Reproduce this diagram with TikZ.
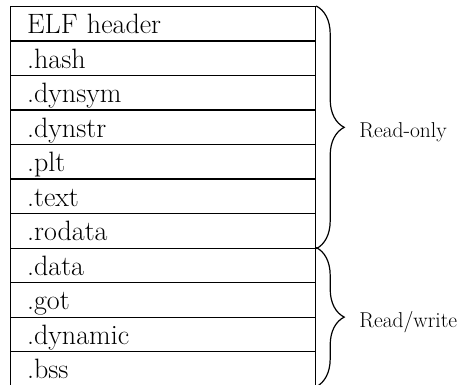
\documentclass[tikz,border=0pt]{standalone}
\usetikzlibrary{decorations.pathreplacing,calc}
\begin{document}
\begin{tikzpicture}[x=1pt,y=-1pt,
  rowbox/.style={draw,line width=1.2pt,anchor=north west,minimum width=305pt,minimum height=34.5pt,
    text width=272pt,inner xsep=16.5pt,inner ysep=0pt,align=left,text height=20pt,text depth=0pt,
    font=\fontsize{28}{30}\selectfont},
  bracedeco/.style={decorate,decoration={brace,amplitude=28pt},line width=1.2pt},
  sidelabel/.style={anchor=base west,inner sep=0pt,font=\fontsize{21.5}{24}\selectfont}]
\useasboundingbox (0,0) rectangle (466,385);
\node[rowbox] (r1) at (10,6) {ELF header};
\node[rowbox] (r2) at (10,40.5) {.hash};
\node[rowbox] (r3) at (10,75) {.dynsym};
\node[rowbox] (r4) at (10,109.5) {.dynstr};
\node[rowbox] (r5) at (10,144) {.plt};
\node[rowbox] (r6) at (10,178.5) {.text};
\node[rowbox] (r7) at (10,213) {.rodata};
\node[rowbox] (r8) at (10,247.5) {.data};
\node[rowbox] (r9) at (10,282) {.got};
\node[rowbox] (r10) at (10,316.5) {.dynamic};
\node[rowbox] (r11) at (10,351) {.bss};
\draw[bracedeco] (r1.north east) -- (r7.south east);
\draw[bracedeco] (r8.north east) -- (r11.south east);
\coordinate (tipa) at ($(r1.north east)!0.5!(r7.south east)+(28,0)$);
\coordinate (tipb) at ($(r8.north east)!0.5!(r11.south east)+(28,0)$);
\node[sidelabel] (ro) at ($(tipa)+(15,10)$) {Read-only};
\node[sidelabel] (rw) at ($(tipb)+(15,10)$) {Read/write};
\end{tikzpicture}
\end{document}
